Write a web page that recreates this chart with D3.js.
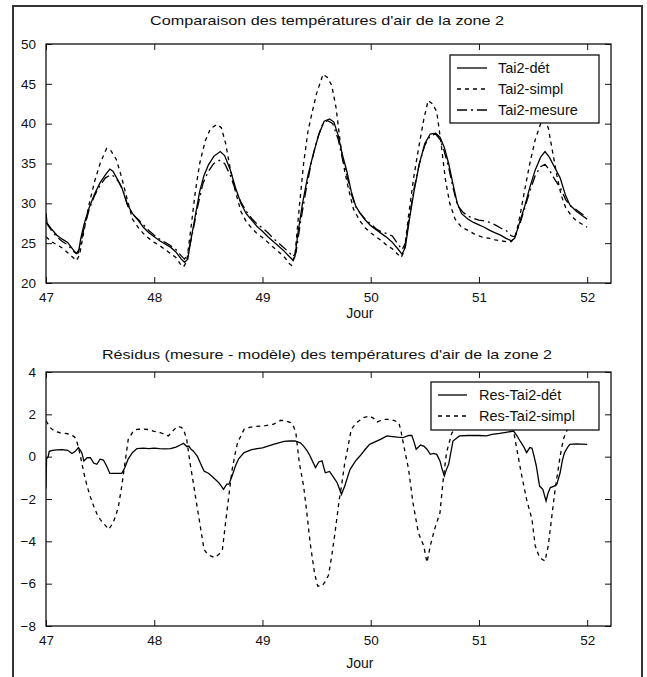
<!DOCTYPE html>
<html>
<head>
<meta charset="utf-8">
<script src="https://cdn.jsdelivr.net/npm/d3@7"></script>
<style>
  body { margin: 0; background: #fff; }
  svg text { font-family: "Liberation Sans", Arial, sans-serif; fill: #111; }
</style>
</head>
<body>
<script>
// ---- data (jour, temperature / residu) ----
const detT = [47.00,47.01,47.05,47.10,47.15,47.20,47.25,47.28,47.30,47.32,47.35,47.40,47.45,47.50,47.55,47.59,47.62,47.66,47.70,47.75,47.80,47.85,47.90,47.95,48.00,48.05,48.10,48.15,48.20,48.25,48.28,48.31,48.34,48.38,48.42,48.46,48.50,48.55,48.61,48.65,48.70,48.75,48.80,48.85,48.90,48.95,49.00,49.05,49.10,49.15,49.20,49.25,49.28,49.30,49.33,49.37,49.42,49.47,49.52,49.57,49.62,49.66,49.70,49.74,49.78,49.82,49.86,49.90,49.95,50.00,50.05,50.10,50.15,50.20,50.25,50.29,50.32,50.36,50.40,50.45,50.50,50.55,50.60,50.64,50.68,50.72,50.76,50.80,50.84,50.90,50.95,51.00,51.05,51.10,51.15,51.20,51.25,51.30,51.33,51.38,51.42,51.47,51.52,51.57,51.61,51.65,51.70,51.75,51.80,51.84,51.90,51.95,52.00];
const detV = [28.8,27.5,26.8,26.0,25.5,25.1,24.2,23.7,23.8,25.5,27.3,29.5,31.2,32.6,33.6,34.3,34.0,33.0,32.0,29.9,28.7,27.9,27.0,26.3,25.8,25.3,24.9,24.5,23.9,23.0,22.6,23.0,25.5,28.5,31.5,33.5,34.8,35.9,36.5,36.0,34.3,32.0,30.0,28.7,27.9,27.1,26.5,25.8,25.2,24.6,24.0,23.3,22.9,23.3,26.5,30.0,33.5,36.2,38.6,40.3,40.6,40.2,38.5,36.0,34.0,31.5,29.7,28.8,27.9,27.2,26.7,26.2,25.7,25.1,24.3,23.6,24.5,28.2,31.5,35.0,37.5,38.7,38.8,38.3,37.0,35.0,32.4,30.0,28.7,28.0,27.6,27.3,27.0,26.6,26.3,26.0,25.6,25.3,25.6,27.8,29.5,32.0,34.2,35.8,36.5,35.8,34.5,33.2,31.0,29.8,29.0,28.5,28.0];

const simplT = [47.00,47.05,47.10,47.15,47.20,47.25,47.28,47.31,47.35,47.40,47.45,47.50,47.56,47.60,47.65,47.70,47.75,47.80,47.85,47.90,47.95,48.00,48.05,48.10,48.15,48.20,48.24,48.27,48.30,48.34,48.38,48.42,48.47,48.52,48.58,48.62,48.66,48.70,48.75,48.80,48.85,48.90,48.95,49.00,49.05,49.10,49.15,49.20,49.25,49.27,49.30,49.34,49.38,49.42,49.46,49.50,49.56,49.60,49.64,49.68,49.72,49.76,49.80,49.84,49.90,49.95,50.00,50.05,50.10,50.15,50.20,50.25,50.28,50.31,50.35,50.40,50.45,50.49,50.53,50.57,50.61,50.65,50.69,50.73,50.78,50.84,50.90,50.95,51.00,51.05,51.10,51.15,51.20,51.25,51.30,51.34,51.38,51.42,51.47,51.52,51.57,51.60,51.64,51.68,51.72,51.76,51.80,51.85,51.90,51.95,52.00];
const simplV = [25.8,25.2,24.8,24.4,23.8,23.2,22.8,23.5,26.5,30.0,32.8,35.0,36.9,36.6,35.5,33.2,30.5,28.0,27.0,26.2,25.6,25.1,24.7,24.2,23.7,23.2,22.4,22.0,22.7,27.0,31.5,35.0,37.8,39.4,39.9,39.5,37.5,34.5,31.5,29.0,27.7,26.9,26.2,25.7,25.1,24.5,23.9,23.3,22.4,22.2,23.5,29.5,35.0,39.0,41.5,43.8,46.2,45.8,44.8,42.0,37.5,34.0,31.5,29.3,27.8,26.9,26.3,25.8,25.3,24.7,24.3,23.6,23.2,24.0,28.5,33.5,37.5,40.5,42.9,42.5,41.5,37.5,33.0,30.0,28.0,27.0,26.6,26.2,25.9,25.7,25.6,25.4,25.3,25.2,25.2,26.0,28.5,31.5,35.0,38.0,40.0,40.5,39.5,36.5,33.5,31.0,29.5,28.5,27.8,27.4,27.0];

const mesT = [47.00,47.05,47.10,47.15,47.20,47.25,47.28,47.31,47.35,47.40,47.45,47.50,47.55,47.60,47.64,47.68,47.72,47.76,47.80,47.85,47.90,47.95,48.00,48.05,48.10,48.15,48.20,48.25,48.28,48.31,48.35,48.40,48.45,48.50,48.55,48.60,48.65,48.70,48.75,48.80,48.85,48.90,48.95,49.00,49.05,49.10,49.15,49.20,49.25,49.28,49.31,49.35,49.40,49.45,49.50,49.55,49.60,49.65,49.70,49.74,49.78,49.82,49.86,49.90,49.95,50.00,50.05,50.10,50.15,50.20,50.25,50.29,50.32,50.36,50.40,50.45,50.50,50.55,50.60,50.64,50.68,50.72,50.76,50.80,50.85,50.90,50.95,51.00,51.05,51.10,51.15,51.20,51.25,51.30,51.33,51.38,51.42,51.47,51.52,51.57,51.61,51.65,51.70,51.75,51.80,51.84,51.90,51.95,52.00];
const mesV = [27.6,26.6,25.8,25.2,24.8,24.0,23.7,24.3,26.8,29.3,31.0,32.3,33.2,33.6,33.3,32.5,31.3,29.5,28.6,28.0,27.3,26.6,26.0,25.5,25.1,24.7,24.2,23.4,23.0,23.6,26.0,29.5,32.5,34.0,35.0,35.4,35.0,33.6,31.7,30.2,29.0,28.1,27.4,26.9,26.3,25.6,25.0,24.4,23.8,23.3,23.8,27.5,31.5,35.0,37.8,39.8,40.4,40.0,38.0,35.5,33.5,31.2,29.6,28.8,28.0,27.4,26.8,26.4,26.2,25.9,24.9,24.2,25.0,28.5,31.8,35.0,37.3,38.5,38.7,38.0,36.5,34.5,32.0,29.8,28.9,28.4,28.1,27.9,27.8,27.6,27.3,26.9,26.6,25.9,25.8,27.5,29.3,31.5,33.5,34.6,34.9,34.2,33.0,32.0,30.5,29.7,29.2,28.7,28.3];

const resDetT = [47.00,47.005,47.02,47.03,47.06,47.10,47.15,47.20,47.24,47.27,47.30,47.33,47.35,47.38,47.41,47.44,47.47,47.50,47.53,47.56,47.59,47.65,47.70,47.73,47.76,47.80,47.84,47.90,47.95,48.00,48.05,48.10,48.15,48.20,48.24,48.27,48.30,48.32,48.34,48.36,48.40,48.43,48.46,48.50,48.53,48.57,48.60,48.64,48.67,48.69,48.72,48.75,48.78,48.83,48.90,48.95,49.00,49.05,49.10,49.15,49.20,49.25,49.30,49.35,49.38,49.41,49.44,49.47,49.49,49.52,49.55,49.58,49.62,49.66,49.69,49.73,49.76,49.79,49.81,49.86,49.90,49.95,49.99,50.04,50.09,50.15,50.20,50.25,50.30,50.35,50.38,50.40,50.42,50.46,50.49,50.52,50.55,50.58,50.61,50.64,50.66,50.68,50.70,50.72,50.76,50.82,50.90,51.00,51.07,51.12,51.19,51.25,51.32,51.35,51.38,51.41,51.44,51.47,51.49,51.51,51.53,51.56,51.59,51.62,51.64,51.66,51.69,51.72,51.75,51.77,51.79,51.82,51.84,51.90,52.00];
const resDetV = [-1.5,-0.1,0.0,0.25,0.3,0.32,0.33,0.30,0.15,0.25,0.43,0.2,-0.2,-0.05,-0.05,-0.3,-0.36,-0.12,-0.16,-0.44,-0.79,-0.79,-0.79,-0.5,-0.1,0.2,0.38,0.4,0.38,0.4,0.38,0.37,0.38,0.45,0.55,0.63,0.48,0.5,0.35,0.27,0.0,-0.35,-0.68,-0.78,-0.91,-1.1,-1.25,-1.54,-1.3,-1.3,-0.9,-0.44,-0.1,0.19,0.33,0.38,0.42,0.5,0.58,0.65,0.72,0.74,0.74,0.65,0.5,0.3,0.03,-0.3,-0.52,-0.25,-0.2,-0.76,-0.7,-1.0,-1.23,-1.78,-1.39,-0.9,-0.6,-0.2,0.03,0.35,0.58,0.7,0.82,0.98,0.95,0.92,0.9,1.0,1.0,0.7,0.35,0.55,0.5,0.35,0.11,0.15,0.11,-0.2,-0.6,-0.91,-0.6,-0.36,0.74,0.98,1.0,1.0,0.98,1.05,1.1,1.15,1.21,1.0,0.74,0.5,0.19,0.43,0.4,0.0,-0.44,-1.39,-1.54,-2.09,-1.7,-1.46,-1.4,-1.3,-0.76,-0.2,0.19,0.45,0.58,0.6,0.58];

const resSimplT = [47.00,47.04,47.08,47.13,47.18,47.22,47.26,47.28,47.31,47.33,47.36,47.38,47.41,47.44,47.47,47.50,47.54,47.58,47.62,47.65,47.67,47.70,47.73,47.76,47.80,47.84,47.90,47.95,48.00,48.06,48.10,48.13,48.17,48.21,48.25,48.27,48.30,48.33,48.36,48.38,48.41,48.43,48.46,48.49,48.52,48.56,48.60,48.63,48.67,48.70,48.72,48.75,48.77,48.83,48.88,48.92,49.01,49.06,49.10,49.17,49.22,49.26,49.29,49.31,49.34,49.38,49.41,49.44,49.48,49.51,49.55,49.58,49.61,49.64,49.67,49.69,49.71,49.73,49.76,49.78,49.82,49.87,49.93,49.99,50.03,50.06,50.12,50.18,50.22,50.26,50.28,50.30,50.35,50.39,50.44,50.49,50.52,50.55,50.59,50.64,50.67,50.70,50.75,50.80,50.90,51.00,51.10,51.20,51.28,51.32,51.35,51.39,51.44,51.49,51.52,51.56,51.61,51.64,51.67,51.70,51.75,51.78,51.81,51.85,51.95,52.00];
const resSimplV = [1.69,1.37,1.2,1.13,1.1,1.06,0.95,0.82,0.2,-0.28,-1.0,-1.39,-1.9,-2.33,-2.7,-2.96,-3.2,-3.43,-3.12,-2.7,-2.33,-1.39,-0.28,0.82,1.15,1.29,1.3,1.28,1.2,1.13,1.05,0.98,1.2,1.42,1.38,1.3,0.82,-0.28,-1.2,-1.86,-2.8,-3.43,-4.38,-4.6,-4.69,-4.77,-4.6,-4.38,-2.65,-1.4,-0.6,0.2,0.66,1.29,1.38,1.42,1.45,1.5,1.53,1.72,1.68,1.61,1.4,1.06,-0.28,-1.39,-2.65,-4.06,-5.48,-6.11,-6.11,-5.9,-5.6,-4.69,-3.6,-2.8,-2.0,-1.39,-0.3,0.19,1.29,1.61,1.84,1.92,1.8,1.64,1.76,1.76,1.7,1.61,1.2,0.66,-0.6,-2.17,-3.59,-4.22,-5.0,-4.22,-3.43,-2.65,-1.07,0.19,1.13,1.4,1.5,1.55,1.55,1.5,1.4,1.21,0.35,-0.76,-2.02,-2.96,-4.22,-4.77,-4.93,-4.22,-2.96,-1.7,0.03,0.82,1.21,1.5,1.6,1.6];

const xTicks = [47, 48, 49, 50, 51, 52];
const tempTicks = [20, 25, 30, 35, 40, 45, 50];
const resTicks = [-8, -6, -4, -2, 0, 2, 4];

const W = 647, H = 677;
const svg = d3.select('body').append('svg')
  .attr('width', W)
  .attr('height', H);

svg.append('rect').attr('width', W).attr('height', H).attr('fill', '#fff');

// outer frame
svg.append('rect')
  .attr('x', 13).attr('y', 6)
  .attr('width', 629).attr('height', H + 10)
  .attr('fill', 'none')
  .attr('stroke', '#333')
  .attr('stroke-width', 2);

const styles = {
  solid: null,
  dashed: '4,4',
  dashdot: '10,4,2,4'
};

function drawPanel(cfg) {
  const { top, bottom, yDomain, yTicks, title, titleLen, titleY, jourY, series, legend } = cfg;
  const left = 46, right = 611;

  const x = d3.scaleLinear().domain([47, 52.22]).range([left, right]);
  const y = d3.scaleLinear().domain(yDomain).range([bottom, top]);

  const g = svg.append('g');
  const clipId = 'clip' + top;
  svg.append('clipPath').attr('id', clipId)
    .append('rect').attr('x', left).attr('y', top)
    .attr('width', right - left).attr('height', bottom - top);

  // lines
  const line = d3.line().x(d => x(d[0])).y(d => y(d[1]));
  series.forEach(s => {
    g.append('path')
      .datum(s.t.map((t, i) => [t, s.v[i]]))
      .attr('clip-path', `url(#${clipId})`)
      .attr('d', line)
      .attr('fill', 'none')
      .attr('stroke', '#000')
      .attr('stroke-width', 1.3)
      .attr('stroke-dasharray', styles[s.style]);
  });

  // axes (ticks inside, box)
  const tl = 6;
  const xb = d3.axisBottom(x).tickValues(xTicks).tickSizeInner(-tl).tickSizeOuter(0).tickPadding(9).tickFormat(d3.format('d'));
  const xt = d3.axisTop(x).tickValues(xTicks).tickSizeInner(-tl).tickSizeOuter(0).tickFormat('');
  const yl = d3.axisLeft(y).tickValues(yTicks).tickSizeInner(-tl).tickSizeOuter(0).tickPadding(10).tickFormat(d3.format('d'));
  const yr = d3.axisRight(y).tickValues(yTicks).tickSizeInner(-tl).tickSizeOuter(0).tickFormat('');

  [[xb, `translate(0,${bottom})`], [xt, `translate(0,${top})`],
   [yl, `translate(${left},0)`], [yr, `translate(${right},0)`]].forEach(([ax, tr]) => {
    const a = g.append('g').attr('transform', tr).call(ax);
    a.select('.domain').remove();
    a.selectAll('line').attr('stroke', '#111');
    a.selectAll('text').attr('font-size', 13.5).attr('fill', '#111')
      .style('font-family', '"Liberation Sans", Arial, sans-serif');
  });

  g.append('rect')
    .attr('x', left).attr('y', top)
    .attr('width', right - left).attr('height', bottom - top)
    .attr('fill', 'none').attr('stroke', '#111').attr('stroke-width', 1.3);

  // titles
  g.append('text')
    .attr('x', 327).attr('y', titleY)
    .attr('text-anchor', 'middle')
    .attr('font-size', 13.5)
    .attr('textLength', titleLen)
    .attr('lengthAdjust', 'spacingAndGlyphs')
    .text(title);

  g.append('text')
    .attr('x', x(49.9)).attr('y', jourY)
    .attr('text-anchor', 'middle')
    .attr('font-size', 14)
    .text('Jour');

  // legend
  const lg = g.append('g').attr('transform', `translate(${legend.x},${legend.y})`);
  lg.append('rect')
    .attr('width', legend.w).attr('height', legend.h)
    .attr('fill', '#fff').attr('stroke', '#111').attr('stroke-width', 1.3);
  series.forEach((s, i) => {
    const yy = legend.first + i * legend.step;
    lg.append('line')
      .attr('x1', legend.lx0).attr('x2', legend.lx1)
      .attr('y1', yy).attr('y2', yy)
      .attr('stroke', '#000').attr('stroke-width', 1.3)
      .attr('stroke-dasharray', styles[s.style]);
    lg.append('text')
      .attr('x', legend.tx).attr('y', yy + 5)
      .attr('font-size', 14.5)
      .text(s.name);
  });
}

drawPanel({
  top: 44, bottom: 283, titleY: 25, jourY: 318,
  yDomain: [20, 50], yTicks: tempTicks,
  title: "Comparaison des températures d'air de la zone 2", titleLen: 354,
  series: [
    { name: 'Tai2-dét', t: detT, v: detV, style: 'solid' },
    { name: 'Tai2-simpl', t: simplT, v: simplV, style: 'dashed' },
    { name: 'Tai2-mesure', t: mesT, v: mesV, style: 'dashdot' }
  ],
  legend: { x: 450, y: 55, w: 149, h: 68, first: 13, step: 21, lx0: 7, lx1: 37, tx: 48 }
});

drawPanel({
  top: 372, bottom: 626, titleY: 359, jourY: 668,
  yDomain: [-8, 4], yTicks: resTicks,
  title: "Résidus (mesure - modèle) des températures d'air de la zone 2", titleLen: 450,
  series: [
    { name: 'Res-Tai2-dét', t: resDetT, v: resDetV, style: 'solid' },
    { name: 'Res-Tai2-simpl', t: resSimplT, v: resSimplV, style: 'dashed' }
  ],
  legend: { x: 431, y: 382, w: 168, h: 48, first: 13, step: 21, lx0: 7, lx1: 36, tx: 48 }
});
</script>
</body>
</html>
